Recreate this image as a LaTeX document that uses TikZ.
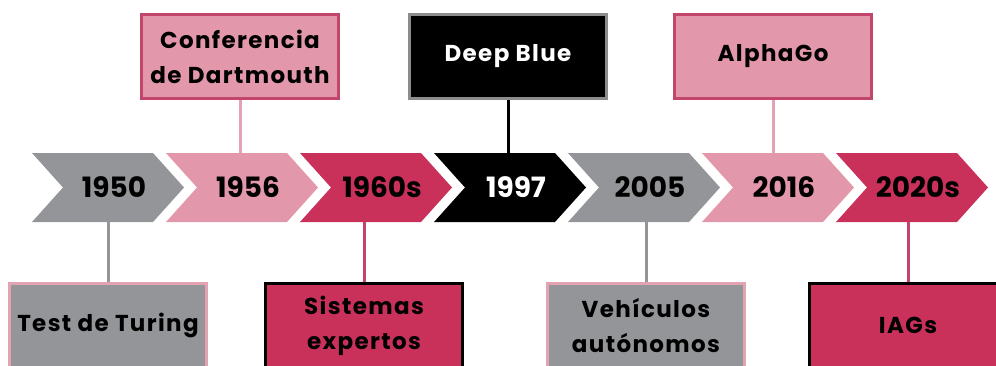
\documentclass[tikz,border=0pt]{standalone}
\usepackage{fontspec}
\setmainfont{Poppins}
\newfontfamily\handfont[LetterSpace=6]{Poppins}

\definecolor{cgray}{HTML}{939598}
\definecolor{cpink}{HTML}{E397AB}
\definecolor{crim}{HTML}{C9305A}
\definecolor{pinkedge}{HTML}{C2456C}
\definecolor{lightedge}{HTML}{E3A3B3}
\definecolor{grayedge}{HTML}{8C8C8C}

\begin{document}
\begin{tikzpicture}[x=1pt, y=-1pt,
    year/.style={rectangle, inner sep=0pt, minimum width=100, minimum height=69, font=\bfseries\fontsize{28}{30}\selectfont},
    event/.style={rectangle, draw, line width=3pt, minimum width=197, minimum height=84, align=center, inner sep=2pt, font=\handfont\bfseries\fontsize{23}{35}\selectfont},
    link/.style={line width=3pt}
]
\useasboundingbox (0,0) rectangle (996,365);
\clip (0,0) rectangle (996,365);

% Timeline chevrons
\foreach \i/\yr/\col/\ink in {0/1950/cgray/black, 1/1956/cpink/black, 2/1960s/crim/black, 3/1997/black/white, 4/2005/cgray/black, 5/2016/cpink/black, 6/2020s/crim/black}{
  \fill[\col] (32+134*\i,153) -- ++(121,0) -- ++(31,34.5) -- ++(-31,34.5) -- ++(-121,0) -- ++(31,-34.5) -- cycle;
  \node[year, text=\ink] (y\yr) at (32+134*\i+82,187.5) {\yr};
}

% Events above
\node[event, draw=pinkedge, fill=cpink] (dartmouth) at (240,56.5) {Conferencia\\de Dartmouth};
\node[event, draw=grayedge, fill=black, text=white] (deepblue) at (508,56.5) {Deep Blue};
\node[event, draw=pinkedge, fill=cpink] (alphago) at (773,56.5) {AlphaGo};

% Events below
\node[event, draw=lightedge, fill=cgray] (turing) at (108,325.5) {Test de Turing};
\node[event, draw=black, fill=crim] (expertos) at (364,325.5) {Sistemas\\expertos};
\node[event, draw=lightedge, fill=cgray] (vehiculos) at (646,325.5) {Vehículos\\autónomos};
\node[event, draw=black, fill=crim] (iags) at (908,325.5) {IAGs};

% Connections
\draw[link, lightedge] (dartmouth.south) -- (dartmouth.south |- y1956.north);
\draw[link, black] (deepblue.south) -- (deepblue.south |- y1997.north);
\draw[link, lightedge] (alphago.south) -- (alphago.south |- y2016.north);
\draw[link, cgray] (turing.north) -- (turing.north |- y1950.south);
\draw[link, pinkedge] (expertos.north) -- (expertos.north |- y1960s.south);
\draw[link, cgray] (vehiculos.north) -- (vehiculos.north |- y2005.south);
\draw[link, pinkedge] (iags.north) -- (iags.north |- y2020s.south);

\end{tikzpicture}
\end{document}
